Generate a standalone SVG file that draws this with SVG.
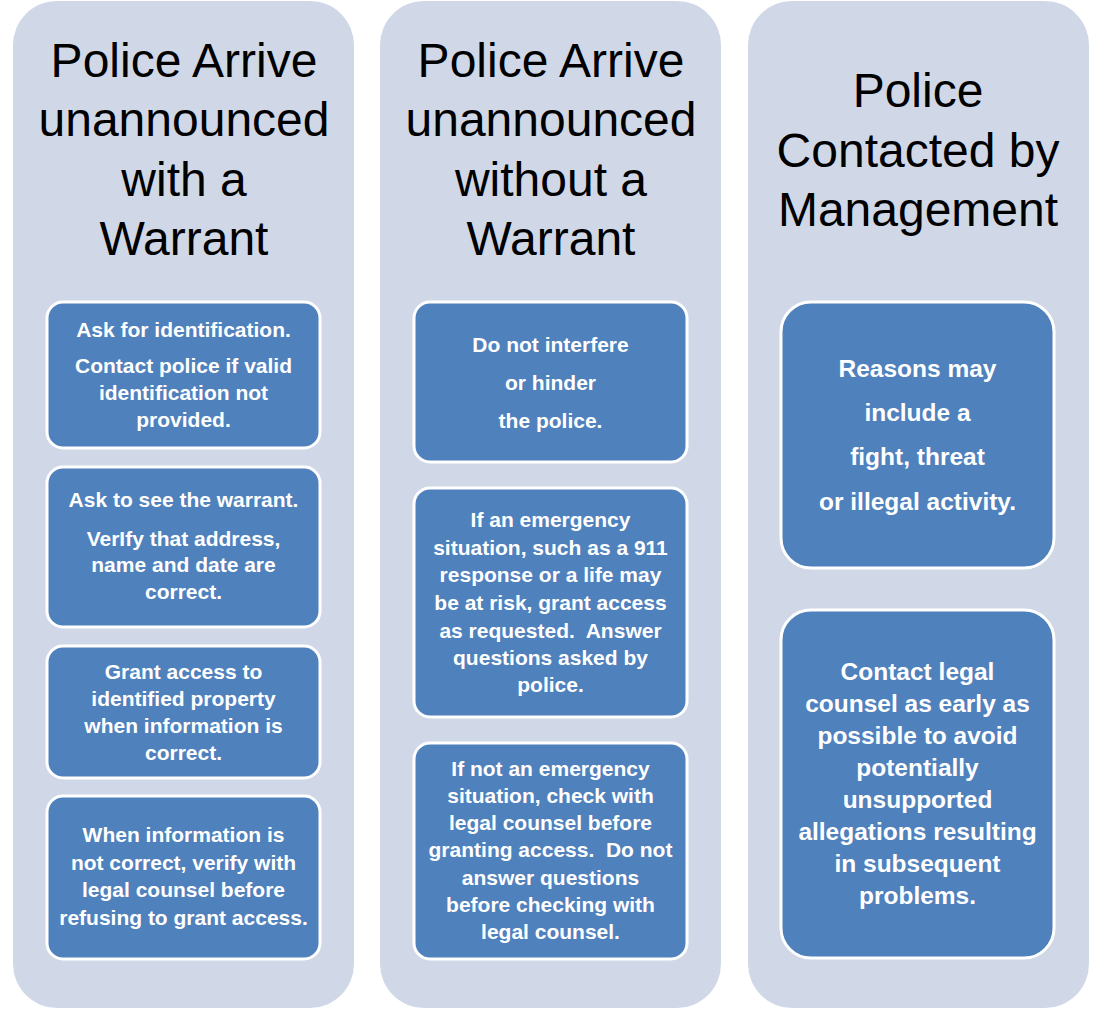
<svg xmlns="http://www.w3.org/2000/svg" width="1108" height="1009" viewBox="0 0 1108 1009">
<style>
.col{fill:#D0D8E8;}
.box{fill:#4F81BD;stroke:#FFFFFF;stroke-width:3;}
.title{font-family:"Liberation Sans",Arial,sans-serif;font-size:48px;fill:#000000;text-anchor:middle;}
.t{font-family:"Liberation Sans",Arial,sans-serif;font-size:21px;font-weight:bold;fill:#FFFFFF;text-anchor:middle;}
.t3{font-family:"Liberation Sans",Arial,sans-serif;font-size:24.5px;font-weight:bold;fill:#FFFFFF;text-anchor:middle;}
</style>
<rect width="1108" height="1009" fill="#FFFFFF"/>
<g id="col1">
<rect class="col" x="13" y="1" width="341" height="1007" rx="44" ry="44"/>
<text class="title" x="184" y="77">Police Arrive</text>
<text class="title" x="184" y="136">unannounced</text>
<text class="title" x="184" y="196">with a</text>
<text class="title" x="184" y="255">Warrant</text>
</g>
<g id="col1-box1">
<rect class="box" x="47" y="302" width="273" height="146" rx="16"/>
<text class="t" x="183.5" y="337">Ask for identification.</text>
<text class="t" x="183.5" y="373">Contact police if valid</text>
<text class="t" x="183.5" y="400">identification not</text>
<text class="t" x="183.5" y="427">provided.</text>
</g>
<g id="col1-box2">
<rect class="box" x="47" y="467" width="273" height="160" rx="16"/>
<text class="t" x="183.5" y="507">Ask to see the warrant.</text>
<text class="t" x="183.5" y="546">VerIfy that address,</text>
<text class="t" x="183.5" y="572">name and date are</text>
<text class="t" x="183.5" y="599">correct.</text>
</g>
<g id="col1-box3">
<rect class="box" x="47" y="646" width="273" height="132" rx="16"/>
<text class="t" x="183.5" y="679">Grant access to</text>
<text class="t" x="183.5" y="706">identified property</text>
<text class="t" x="183.5" y="733">when information is</text>
<text class="t" x="183.5" y="760">correct.</text>
</g>
<g id="col1-box4">
<rect class="box" x="47" y="796" width="273" height="163" rx="16"/>
<text class="t" x="183.5" y="842">When information is</text>
<text class="t" x="183.5" y="869.5">not correct, verify with</text>
<text class="t" x="183.5" y="897">legal counsel before</text>
<text class="t" x="183.5" y="924.5">refusing to grant access.</text>
</g>
<g id="col2">
<rect class="col" x="380" y="1" width="341" height="1007" rx="44" ry="44"/>
<text class="title" x="551" y="77">Police Arrive</text>
<text class="title" x="551" y="136">unannounced</text>
<text class="title" x="551" y="196">without a</text>
<text class="title" x="551" y="255">Warrant</text>
</g>
<g id="col2-box1">
<rect class="box" x="414" y="302" width="273" height="160" rx="16"/>
<text class="t" x="550.5" y="352">Do not interfere</text>
<text class="t" x="550.5" y="390">or hinder</text>
<text class="t" x="550.5" y="428">the police.</text>
</g>
<g id="col2-box2">
<rect class="box" x="414" y="488" width="273" height="229" rx="16"/>
<text class="t" x="550.5" y="527">If an emergency</text>
<text class="t" x="550.5" y="555">situation, such as a 911</text>
<text class="t" x="550.5" y="582">response or a life may</text>
<text class="t" x="550.5" y="610">be at risk, grant access</text>
<text class="t" x="550.5" y="638">as requested.&#160; Answer</text>
<text class="t" x="550.5" y="665">questions asked by</text>
<text class="t" x="550.5" y="692">police.</text>
</g>
<g id="col2-box3">
<rect class="box" x="414" y="743" width="273" height="216" rx="16"/>
<text class="t" x="550.5" y="776">If not an emergency</text>
<text class="t" x="550.5" y="803">situation, check with</text>
<text class="t" x="550.5" y="830">legal counsel before</text>
<text class="t" x="550.5" y="857">granting access.&#160; Do not</text>
<text class="t" x="550.5" y="885">answer questions</text>
<text class="t" x="550.5" y="912">before checking with</text>
<text class="t" x="550.5" y="939">legal counsel.</text>
</g>
<g id="col3">
<rect class="col" x="748" y="1" width="341" height="1007" rx="44" ry="44"/>
<text class="title" x="918" y="107">Police</text>
<text class="title" x="918" y="167">Contacted by</text>
<text class="title" x="918" y="226">Management</text>
</g>
<g id="col3-box1">
<rect class="box" x="781" y="302" width="273" height="266" rx="30"/>
<text class="t3" x="917.5" y="377">Reasons may</text>
<text class="t3" x="917.5" y="421">include a</text>
<text class="t3" x="917.5" y="465">fight, threat</text>
<text class="t3" x="917.5" y="510">or illegal activity.</text>
</g>
<g id="col3-box2">
<rect class="box" x="781" y="610" width="273" height="348" rx="30"/>
<text class="t3" x="917.5" y="680">Contact legal</text>
<text class="t3" x="917.5" y="712">counsel as early as</text>
<text class="t3" x="917.5" y="744">possible to avoid</text>
<text class="t3" x="917.5" y="776">potentially</text>
<text class="t3" x="917.5" y="808">unsupported</text>
<text class="t3" x="917.5" y="840">allegations resulting</text>
<text class="t3" x="917.5" y="872">in subsequent</text>
<text class="t3" x="917.5" y="904">problems.</text>
</g>
<g id="connectors"></g>
</svg>
